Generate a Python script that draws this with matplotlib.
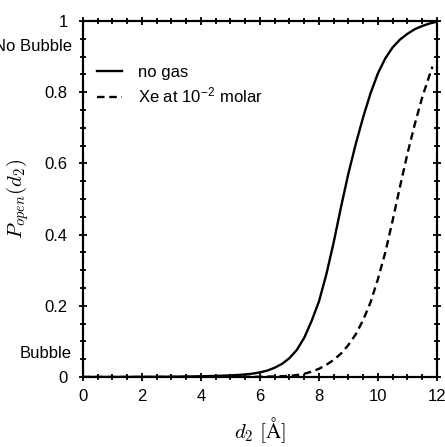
import numpy as np
import matplotlib
matplotlib.use('Agg')
import matplotlib.pyplot as plt
from matplotlib.ticker import MultipleLocator
import matplotlib.transforms as mtransforms

plt.rcParams['font.family'] = ['Liberation Sans', 'DejaVu Sans']
plt.rcParams['mathtext.fontset'] = 'cm'

# no gas
d_nogas = [0, 1, 2, 3, 3.5, 4, 4.5, 5, 5.25, 5.5, 5.75, 6, 6.25, 6.5, 6.75, 7,
           7.25, 7.5, 7.75, 8, 8.25, 8.5, 8.75, 9, 9.25, 9.5, 9.75, 10, 10.25,
           10.5, 10.75, 11, 11.25, 11.5, 11.75, 12]
p_nogas = [0, 0.0001, 0.0003, 0.0008, 0.0013, 0.002, 0.003, 0.0045, 0.0057,
           0.0072, 0.0095, 0.013, 0.018, 0.026, 0.037, 0.053, 0.076, 0.11,
           0.157, 0.212, 0.288, 0.378, 0.478, 0.572, 0.655, 0.73, 0.797, 0.853,
           0.895, 0.926, 0.948, 0.964, 0.977, 0.986, 0.993, 0.998]

# Xe at 1e-2 molar
d_xe = [0, 2, 4, 5, 5.5, 6, 6.5, 7, 7.25, 7.5, 7.75, 8, 8.25, 8.5, 8.75, 9,
        9.25, 9.5, 9.75, 10, 10.25, 10.5, 10.75, 11, 11.25, 11.5, 11.75, 11.85]
p_xe = [0, 0, 0.0001, 0.0002, 0.0004, 0.0007, 0.0015, 0.003, 0.0055, 0.009,
        0.015, 0.023, 0.034, 0.048, 0.066, 0.09, 0.12, 0.16, 0.21, 0.275,
        0.35, 0.44, 0.535, 0.627, 0.71, 0.785, 0.848, 0.872]

fig = plt.figure(figsize=(4.45, 4.47), dpi=100)
ax = fig.add_axes([0.1865, 0.1566, 0.7953, 0.7964])

ax.plot(d_nogas, p_nogas, 'k-', lw=1.7, label='no gas')
ax.plot(d_xe, p_xe, 'k--', lw=1.7, dashes=(3.2, 2.0),
        label='Xe at 10$^{\\mathregular{-2}}$ molar')

ax.set_xlim(0, 12)
ax.set_ylim(0, 1)
ax.xaxis.set_minor_locator(MultipleLocator(0.5))
ax.yaxis.set_minor_locator(MultipleLocator(0.05))
ax.set_xticks([0, 2, 4, 6, 8, 10, 12])
ax.set_xticklabels(['0', '2', '4', '6', '8', '10', '12'])
ax.set_yticks([0, 0.2, 0.4, 0.6, 0.8, 1])
ax.set_yticklabels(['0', '0.2', '0.4', '0.6', '0.8', '1'])

ax.tick_params(which='both', direction='inout', top=True, right=True,
               width=1.3, labelsize=12)
ax.tick_params(which='major', length=6)
ax.tick_params(which='minor', length=4)
ax.tick_params(axis='x', pad=6)
ax.tick_params(axis='y', pad=8)
for s in ax.spines.values():
    s.set_linewidth(1.6)

ax.set_xlabel(r'$d_2\ [\mathrm{\AA}]$', fontsize=15, labelpad=8)
ax.set_ylabel(r'$P_{open}(d_2)$', fontsize=15, labelpad=10)

trans = mtransforms.blended_transform_factory(fig.transFigure, ax.transData)
ax.text(0.162, 0.927, 'No Bubble', transform=trans, ha='right', va='center',
        fontsize=12)
ax.text(0.162, 0.067, 'Bubble', transform=trans, ha='right', va='center',
        fontsize=12)

ax.legend(loc='upper left', frameon=False, fontsize=12, handlelength=1.5,
          handletextpad=0.95, labelspacing=0.35, borderaxespad=0,
          bbox_to_anchor=(0.02, 0.895))

fig.savefig('out.png', dpi=100)
